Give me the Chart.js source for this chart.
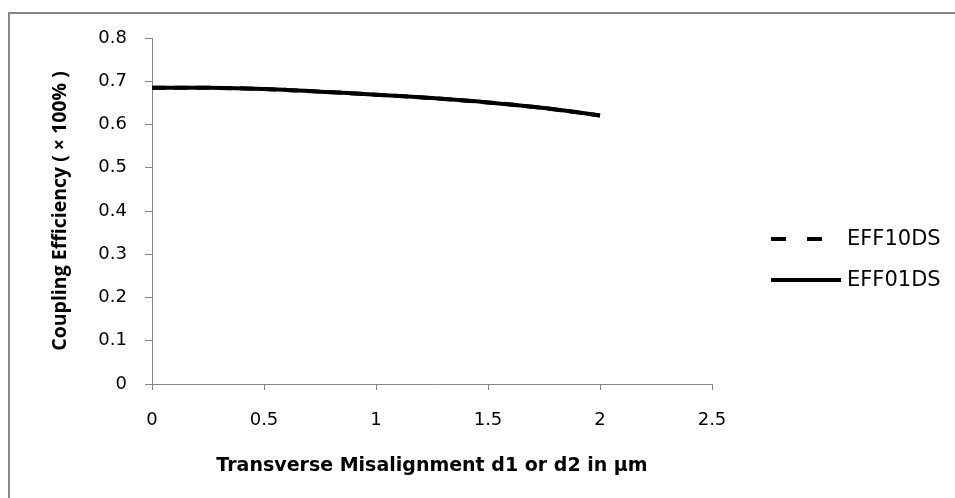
<!DOCTYPE html>
<html>
<head>
<meta charset="utf-8">
<script src="https://cdn.jsdelivr.net/npm/chart.js@4.4.1/dist/chart.umd.min.js"></script>
<style>
  html, body { margin: 0; padding: 0; background: #ffffff; }
  #wrap { width: 955px; height: 498px; position: relative; }
</style>
</head>
<body>
<div id="wrap"><canvas id="c" width="955" height="498"></canvas></div>
<script>
// ---- Data ----
const xValues = [0, 0.25, 0.5, 0.75, 1, 1.25, 1.5, 1.75, 2];
const eff10ds = [0.685, 0.685, 0.682, 0.676, 0.669, 0.661, 0.651, 0.638, 0.621];
const eff01ds = [0.685, 0.685, 0.682, 0.676, 0.669, 0.661, 0.651, 0.638, 0.621];
const seriesNames = ['EFF10DS', 'EFF01DS'];
const xTickLabels = ['0', '0.5', '1', '1.5', '2', '2.5'];
const yTickLabels = ['0', '0.1', '0.2', '0.3', '0.4', '0.5', '0.6', '0.7', '0.8'];
const xTitle = 'Transverse Misalignment d1 or d2 in µm';
const yTitle = 'Coupling Efficiency ( × 100% )';

const toPoints = (xs, ys) => xs.map((x, i) => ({ x: x, y: ys[i] }));

const GRAY = '#868686';

const framePlugin = {
  id: 'frame',
  beforeDraw(chart) {
    const ctx = chart.ctx;
    ctx.save();
    ctx.fillStyle = '#ffffff';
    ctx.fillRect(0, 0, chart.width, chart.height);
    ctx.strokeStyle = GRAY;
    ctx.lineWidth = 2;
    ctx.strokeRect(9, 13, chart.width + 20, chart.height + 20);
    ctx.restore();
  }
};

const legendPlugin = {
  id: 'customLegend',
  afterDraw(chart) {
    const ctx = chart.ctx;
    const ds = chart.data.datasets;
    const rows = [239, 280];
    const sampleEnds = [825, 841];
    ctx.save();
    ds.forEach((d, i) => {
      const y = rows[i];
      ctx.beginPath();
      ctx.strokeStyle = d.borderColor;
      ctx.lineWidth = 4;
      ctx.lineCap = 'butt';
      ctx.setLineDash(d.legendDash || []);
      ctx.moveTo(771, y);
      ctx.lineTo(sampleEnds[i], y);
      ctx.stroke();
      ctx.setLineDash([]);
      ctx.fillStyle = '#000000';
      ctx.font = '21px "DejaVu Sans", sans-serif';
      ctx.textBaseline = 'middle';
      ctx.textAlign = 'left';
      ctx.fillText(d.label, 847, y + 1);
    });
    ctx.restore();
  }
};

new Chart(document.getElementById('c'), {
  type: 'line',
  data: {
    datasets: [
      {
        label: seriesNames[0],
        data: toPoints(xValues, eff10ds),
        borderColor: '#000000',
        borderWidth: 4,
        borderDash: [14, 8],
        legendDash: [15, 21],
        pointRadius: 0,
        tension: 0.3,
        fill: false,
        order: 2
      },
      {
        label: seriesNames[1],
        data: toPoints(xValues, eff01ds),
        borderColor: '#000000',
        borderWidth: 4,
        pointRadius: 0,
        tension: 0.3,
        fill: false,
        order: 1
      }
    ]
  },
  options: {
    responsive: false,
    animation: false,
    devicePixelRatio: 1,
    layout: { padding: { top: 38, right: 243, bottom: 0, left: 0 } },
    plugins: {
      legend: { display: false },
      tooltip: { enabled: false }
    },
    scales: {
      x: {
        type: 'linear',
        min: 0,
        max: 2.5,
        afterFit(scale) { scale.height = 114; },
        afterBuildTicks(scale) {
          scale.ticks = xTickLabels.map(t => ({ value: parseFloat(t) }));
        },
        ticks: {
          color: '#000000',
          font: { family: '"DejaVu Sans", sans-serif', size: 18 },
          padding: 20,
          maxRotation: 0,
          callback: (v, i) => xTickLabels[i]
        },
        grid: {
          drawOnChartArea: false,
          drawTicks: true,
          tickLength: 6,
          color: GRAY
        },
        border: { display: true, color: GRAY, width: 1 },
        title: {
          display: true,
          text: xTitle,
          color: '#000000',
          font: { family: '"DejaVu Sans", sans-serif', size: 19, weight: 'bold' },
          padding: { top: 0, bottom: 21 }
        }
      },
      y: {
        type: 'linear',
        min: 0,
        max: 0.8,
        afterFit(scale) { scale.width = 152; },
        afterBuildTicks(scale) {
          scale.ticks = yTickLabels.map(t => ({ value: parseFloat(t) }));
        },
        ticks: {
          color: '#000000',
          font: { family: '"DejaVu Sans", sans-serif', size: 18 },
          padding: 18,
          callback: (v, i) => yTickLabels[i]
        },
        grid: {
          drawOnChartArea: false,
          drawTicks: true,
          tickLength: 7,
          color: GRAY
        },
        border: { display: true, color: GRAY, width: 1 },
        title: {
          display: true,
          text: yTitle,
          color: '#000000',
          font: { family: '"Open Sans", sans-serif', size: 19.5, weight: 'bold' },
          padding: { top: 49, bottom: 0 }
        }
      }
    }
  },
  plugins: [framePlugin, legendPlugin]
});
</script>
</body>
</html>
